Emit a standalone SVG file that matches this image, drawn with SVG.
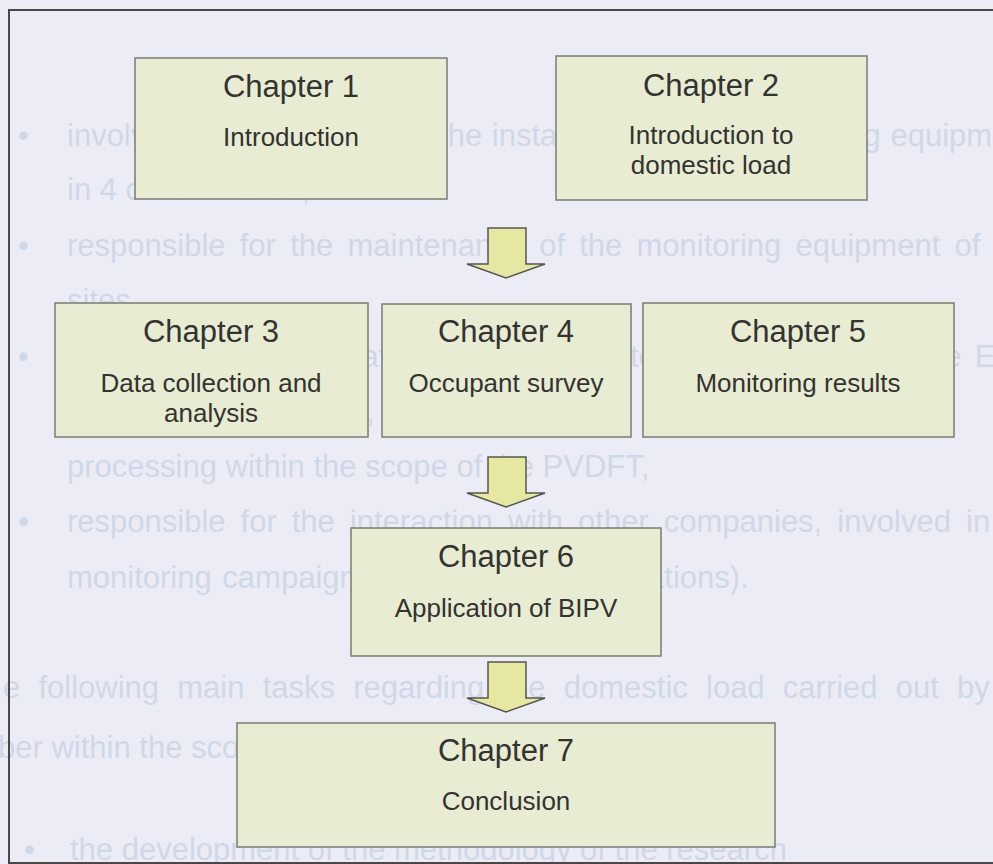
<svg xmlns="http://www.w3.org/2000/svg" width="993" height="864" viewBox="0 0 993 864">
<defs>
<style>
.bg{fill:#ECECF6}
.ghost{font-family:"Liberation Sans",Arial,sans-serif;font-size:31px;fill:#D0D8E8}
.frame{fill:none;stroke:#4a4646;stroke-width:2}
.box{fill:#E8ECD3;stroke:#7b7b72;stroke-width:1.5}
.arrow{fill:#E6E8A2;stroke:#555550;stroke-width:1.5;stroke-linejoin:miter}
.t{font-family:"Liberation Sans",Arial,sans-serif;font-size:31px;fill:#333330;text-anchor:middle}
.s{font-family:"Liberation Sans",Arial,sans-serif;font-size:26px;fill:#333330;text-anchor:middle}
</style>
<path id="blockArrow" d="M488,0 H526 V36 H545 L506,50 L467,36 H488 Z"/>
</defs>
<rect class="bg" x="0" y="0" width="993" height="864"/>
<g id="background-text" class="ghost">
<text x="18" y="146">•</text>
<text x="67" y="146" word-spacing="1">involved in the design and the installation of the monitoring equipment</text>
<text x="67" y="200">in 4 out of 6 sites,</text>
<text x="18" y="256">•</text>
<text x="67" y="256" word-spacing="5.6">responsible for the maintenance of the monitoring equipment of</text>
<text x="67" y="311">sites,</text>
<text x="18" y="367">•</text>
<text x="67" y="367" word-spacing="4.5">responsible for the data collection on site, the download to the E</text>
<text x="67" y="422" word-spacing="23">monthly data base, the screening for errors and the</text>
<text x="67" y="477">processing within the scope of the PVDFT,</text>
<text x="18" y="532">•</text>
<text x="67" y="532" word-spacing="6.4">responsible for the interaction with other companies, involved in</text>
<text x="67" y="588" word-spacing="2">monitoring campaign (e.g. housing associations).</text>
<text x="3" y="698" word-spacing="9.6">e following main tasks regarding the domestic load carried out by</text>
<text x="-2" y="758">ber within the scope of the PVDFT project:</text>
<text x="24" y="860">•</text>
<text x="70" y="860">the development of the methodology of the research</text>
</g>
<path class="frame" d="M994,10 H9 V863 H994"/>
<g id="connectors">
<use href="#blockArrow" class="arrow" transform="translate(0,228)"/>
<use href="#blockArrow" class="arrow" transform="translate(0,457)"/>
<use href="#blockArrow" class="arrow" transform="translate(0,662)"/>
</g>
<g id="chapter1">
<rect class="box" x="135" y="58" width="312" height="141"/>
<text class="t" x="291" y="97">Chapter 1</text>
<text class="s" x="291" y="146">Introduction</text>
</g>
<g id="chapter2">
<rect class="box" x="556" y="56" width="311" height="144"/>
<text class="t" x="711" y="96">Chapter 2</text>
<text class="s" x="711" y="144">Introduction to</text>
<text class="s" x="711" y="174">domestic load</text>
</g>
<g id="chapter3">
<rect class="box" x="55" y="303" width="313" height="134"/>
<text class="t" x="211" y="342">Chapter 3</text>
<text class="s" x="211" y="392">Data collection and</text>
<text class="s" x="211" y="422">analysis</text>
</g>
<g id="chapter4">
<rect class="box" x="382" y="304" width="249" height="133"/>
<text class="t" x="506" y="342">Chapter 4</text>
<text class="s" x="506" y="392">Occupant survey</text>
</g>
<g id="chapter5">
<rect class="box" x="643" y="303" width="311" height="134"/>
<text class="t" x="798" y="342">Chapter 5</text>
<text class="s" x="798" y="392">Monitoring results</text>
</g>
<g id="chapter6">
<rect class="box" x="351" y="528" width="310" height="128"/>
<text class="t" x="506" y="567">Chapter 6</text>
<text class="s" x="506" y="617">Application of BIPV</text>
</g>
<g id="chapter7">
<rect class="box" x="237" y="723" width="538" height="124"/>
<text class="t" x="506" y="761">Chapter 7</text>
<text class="s" x="506" y="810">Conclusion</text>
</g>
</svg>
